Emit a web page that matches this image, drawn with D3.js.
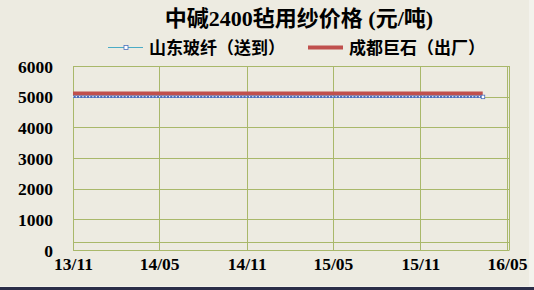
<!DOCTYPE html>
<html><head><meta charset="utf-8">
<script src="https://cdn.jsdelivr.net/npm/d3@7"></script>
<style>html,body{margin:0;padding:0;background:#f3f2ec;}svg{display:block;}</style>
</head><body>
<script>
const title = "中碱2400毡用纱价格 (元/吨)";
const seriesNames = ["山东玻纤（送到）", "成都巨石（出厂）"];
const startDate = "2013-11-01";       // first weekly observation
const stepDays = 7;                    // weekly data
const shandong = [
5000,5000,5000,5000,5000,5000,5000,5000,5000,5000,5000,5000,5000,5000,5000,5000,5000,5000,5000,5000,
5000,5000,5000,5000,5000,5000,5000,5000,5000,5000,5000,5000,5000,5000,5000,5000,5000,5000,5000,5000,
5000,5000,5000,5000,5000,5000,5000,5000,5000,5000,5000,5000,5000,5000,5000,5000,5000,5000,5000,5000,
5000,5000,5000,5000,5000,5000,5000,5000,5000,5000,5000,5000,5000,5000,5000,5000,5000,5000,5000,5000,
5000,5000,5000,5000,5000,5000,5000,5000,5000,5000,5000,5000,5000,5000,5000,5000,5000,5000,5000,5000,
5000,5000,5000,5000,5000,5000,5000,5000,5000,5000,5000,5000,5000,5000,5000,5000,5000,5000,5000,5000,
5000,5000,5000,5000];
const jushi = [
5100,5100,5100,5100,5100,5100,5100,5100,5100,5100,5100,5100,5100,5100,5100,5100,5100,5100,5100,5100,
5100,5100,5100,5100,5100,5100,5100,5100,5100,5100,5100,5100,5100,5100,5100,5100,5100,5100,5100,5100,
5100,5100,5100,5100,5100,5100,5100,5100,5100,5100,5100,5100,5100,5100,5100,5100,5100,5100,5100,5100,
5100,5100,5100,5100,5100,5100,5100,5100,5100,5100,5100,5100,5100,5100,5100,5100,5100,5100,5100,5100,
5100,5100,5100,5100,5100,5100,5100,5100,5100,5100,5100,5100,5100,5100,5100,5100,5100,5100,5100,5100,
5100,5100,5100,5100,5100,5100,5100,5100,5100,5100,5100,5100,5100,5100,5100,5100,5100,5100,5100,5100,
5100,5100,5100,5100];
const xTickLabels = ["13/11","14/05","14/11","15/05","15/11","16/05"];
const yTicks = [0,1000,2000,3000,4000,5000,6000];
const yExtraGrid = [250];

const W = 534, H = 290;
const svg = d3.select("body").append("svg").attr("width", W).attr("height", H);
svg.append("rect").attr("x",0).attr("y",0).attr("width",529).attr("height",286).attr("fill","#edebe1");
svg.append("rect").attr("x",0).attr("y",287).attr("width",W).attr("height",3).attr("fill","#2b2e48");

const parseYM = d3.timeParse("%y/%m");
const parseD = d3.timeParse("%Y-%m-%d");
const t0 = parseD(startDate);
const dates = shandong.map((_, i) => d3.timeDay.offset(t0, i * stepDays));
const tickDates = xTickLabels.map(parseYM);

const x = d3.scaleTime().domain([tickDates[0], tickDates[tickDates.length-1]]).range([73, 507]);
const y = d3.scaleLinear().domain([0, 6000]).range([250, 66]);

const grid = "#a9b86a";
const g = svg.append("g");
g.selectAll("line.hg").data(yTicks.concat(yExtraGrid)).join("line")
  .attr("x1", 73).attr("x2", 509.5)
  .attr("y1", d => Math.round(y(d)) + 0.5).attr("y2", d => Math.round(y(d)) + 0.5)
  .attr("stroke", grid).attr("stroke-width", 1);
g.selectAll("line.vg").data(tickDates).join("line")
  .attr("x1", d => Math.round(x(d)) + 0.5).attr("x2", d => Math.round(x(d)) + 0.5)
  .attr("y1", y(6000)).attr("y2", y(0))
  .attr("stroke", grid).attr("stroke-width", 1);
g.append("line").attr("x1",509.5).attr("x2",509.5).attr("y1",y(6000)).attr("y2",y(0)).attr("stroke",grid);

const yAxis = d3.axisLeft(y).tickValues(yTicks).tickSize(0).tickPadding(0).tickFormat(d3.format("d"));
const ya = svg.append("g").attr("transform","translate(53,0)").call(yAxis);
ya.select(".domain").remove();
ya.selectAll("text").attr("font-family","'Liberation Serif', serif").attr("font-weight","bold")
  .attr("font-size","17.5px").attr("fill","#000").attr("dy","0.35em");

const xAxis = d3.axisBottom(x).tickValues(tickDates).tickSize(0).tickPadding(0).tickFormat((d,i)=>xTickLabels[i]);
const xa = svg.append("g").attr("transform","translate(0,258)").call(xAxis);
xa.select(".domain").remove();
xa.selectAll("text").attr("font-family","'Liberation Serif', serif").attr("font-weight","bold")
  .attr("font-size","17.5px").attr("fill","#000").attr("dy","0.71em");

const line = d3.line().x((d,i)=>x(dates[i])).y(d=>y(d));
svg.append("path").datum(jushi).attr("d", line).attr("fill","none")
  .attr("stroke","#c0504d").attr("stroke-width",4);
svg.append("path").datum(shandong).attr("d", line).attr("fill","none")
  .attr("stroke","#4a6fbd").attr("stroke-width",2.5);
svg.append("g").selectAll("rect").data(shandong).join("rect")
  .attr("x",(d,i)=>x(dates[i])-0.6).attr("y",d=>y(d)-0.6).attr("width",1.2).attr("height",1.2)
  .attr("fill","#fff");
svg.append("rect").attr("x", x(dates[dates.length-1]) - 1.5).attr("y", y(shandong[shandong.length-1]) - 1.5)
  .attr("width",3.5).attr("height",3.5).attr("fill","#fff").attr("stroke","#4a6fbd").attr("stroke-width",0.8);

svg.append("text").attr("x", 299).attr("y", 26).attr("text-anchor","middle")
  .attr("font-family","'Liberation Serif','Noto Sans CJK SC',serif").attr("font-weight","bold")
  .attr("font-size","22px").attr("fill","#000").text(title);

const lg = svg.append("g");
lg.append("line").attr("x1",108).attr("x2",143).attr("y1",47.5).attr("y2",47.5).attr("stroke","#4bacc6").attr("stroke-width",1);
lg.append("rect").attr("x",124).attr("y",45.5).attr("width",4).attr("height",4).attr("fill","#fff").attr("stroke","#4a6fbd").attr("stroke-width",0.8);
lg.append("text").attr("x",149).attr("y",54).attr("font-family","'Noto Sans CJK SC',sans-serif").attr("font-weight","bold")
  .attr("font-size","17px").attr("fill","#000").text(seriesNames[0]);
lg.append("line").attr("x1",308).attr("x2",343).attr("y1",47.5).attr("y2",47.5).attr("stroke","#c0504d").attr("stroke-width",4);
lg.append("text").attr("x",349).attr("y",54).attr("font-family","'Noto Sans CJK SC',sans-serif").attr("font-weight","bold")
  .attr("font-size","17px").attr("fill","#000").text(seriesNames[1]);
</script>
</body></html>
